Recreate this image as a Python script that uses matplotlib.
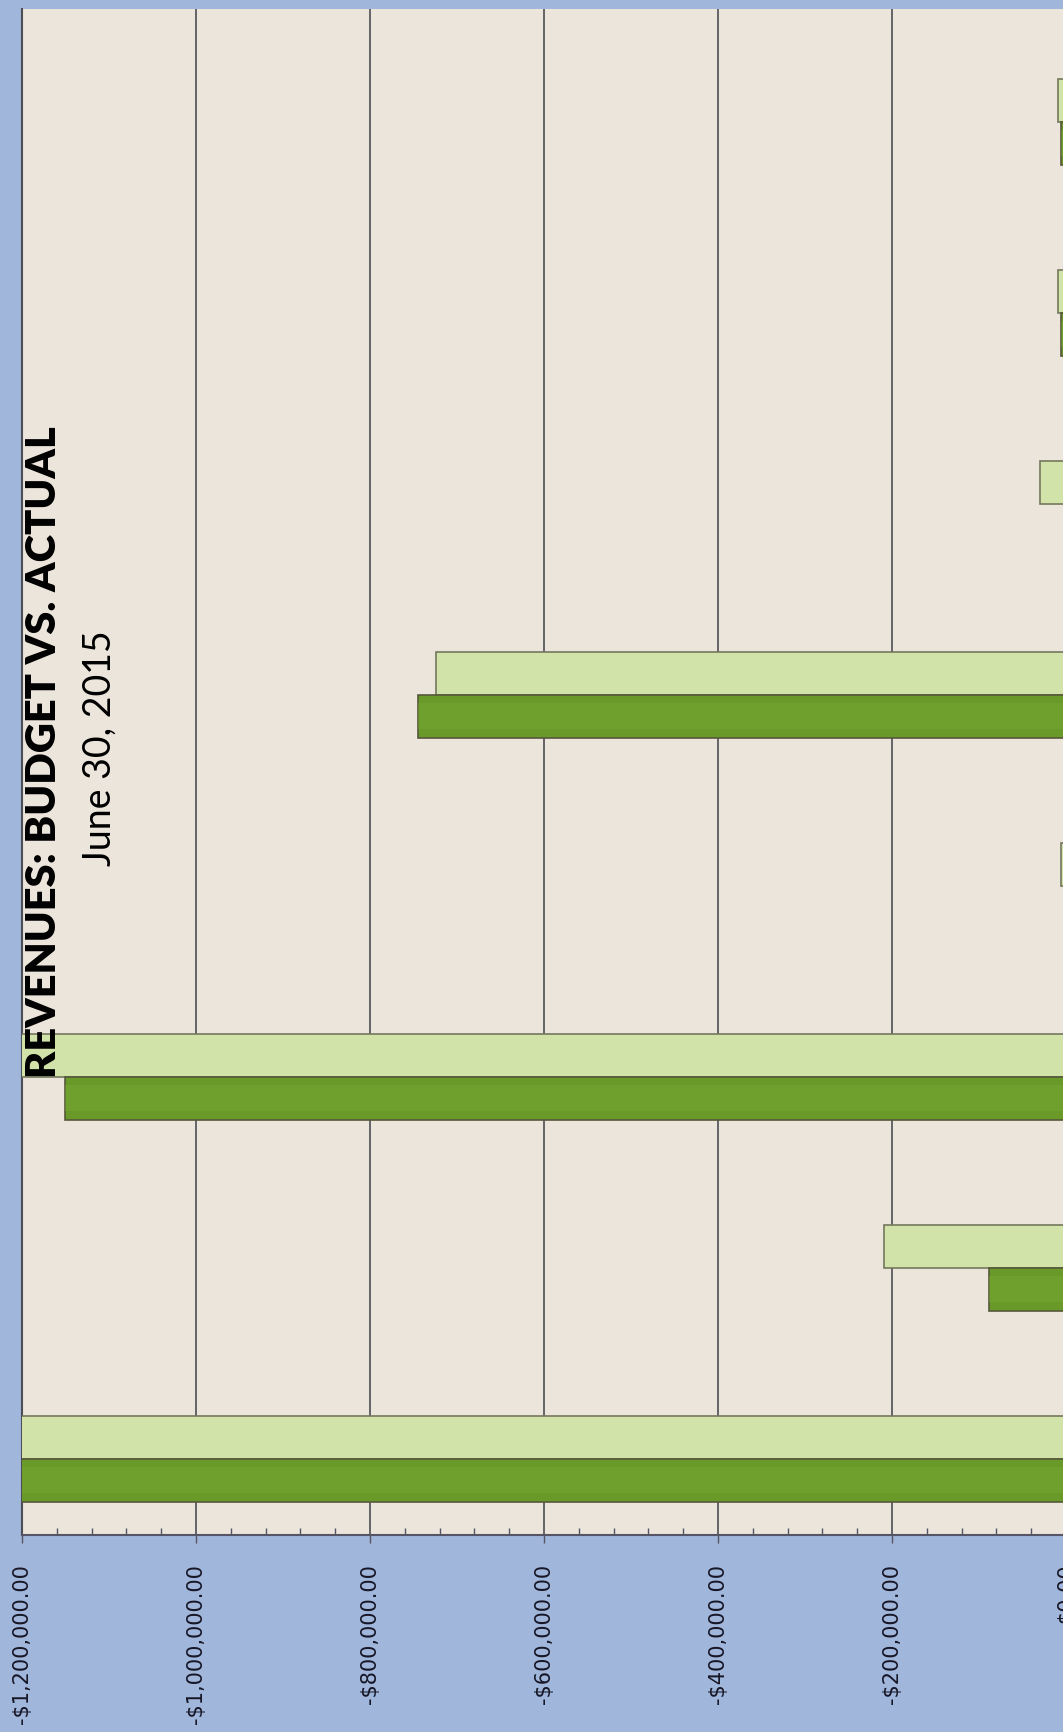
import matplotlib
matplotlib.use("Agg")
import matplotlib.pyplot as plt
import numpy as np
from matplotlib.ticker import FuncFormatter, MultipleLocator

# categories (labels are cut off in the scan), top to bottom
categories = ["Item 1", "Item 2", "Item 3", "Item 4", "Item 5", "Item 6", "Item 7", "Item 8"]
budget = [-9000, -9000, -30000, -724000, -6000, -1230000, -209000, -1400000]
actual = [-6000, -6000, 0, -745000, 0, -1151000, -88500, -1450000]
xticks = [-1200000, -1000000, -800000, -600000, -400000, -200000, 0]

page_blue = "#a0b6da"
plot_bg = "#ebe5dc"
light_green = "#d2e3aa"
dark_green = "#699a29"

fig = plt.figure(figsize=(10.63, 17.33), dpi=100, facecolor=page_blue)
ax = fig.add_axes([22 / 1063, 197 / 1733, 1044 / 1063, 1526 / 1733])
ax.set_facecolor(plot_bg)

y = np.arange(len(categories))
h = 0.225
ax.barh(y - h / 2, budget, height=h, color=light_green, edgecolor="#74775c",
        linewidth=1.2, zorder=3, label="Budget")
ax.barh(y + h / 2, actual, height=h, color=dark_green, edgecolor="#55583a",
        linewidth=1.2, zorder=3, label="Actual")
# slight sheen on the dark bars, like the bevel in the original
ax.barh(y + h / 2, actual, height=h * 0.6, color="#7aab36", linewidth=0,
        zorder=3.5, alpha=0.4)

ax.set_xlim(-1200000, 0)
ax.set_ylim(7.40, -0.59)
ax.set_xticks(xticks)
ax.xaxis.set_minor_locator(MultipleLocator(40000))
ax.xaxis.set_major_formatter(FuncFormatter(
    lambda v, p: ("-$" if v < 0 else "$") + f"{abs(v):,.2f}"))
ax.tick_params(axis="x", which="major", direction="out", length=6, width=1,
               color="#555566", labelsize=15, labelrotation=90, pad=14,
               labelcolor="#161626")
ax.tick_params(axis="x", which="minor", direction="in", length=5, width=1,
               color="#555566")
ax.set_yticks([])
ax.grid(axis="x", which="major", color="#4d4d55", linewidth=1.2, zorder=1)

for s in ["top", "right"]:
    ax.spines[s].set_visible(False)
ax.spines["left"].set_color("#4d4d55")
ax.spines["bottom"].set_color("#555566")
ax.spines["left"].set_linewidth(1.5)
ax.spines["bottom"].set_linewidth(1.5)

fig.text(44 / 1063, 1 - 752 / 1733, "REVENUES: BUDGET VS. ACTUAL", rotation=90,
         ha="center", va="center", fontsize=30, fontweight="heavy",
         family=["Lato", "DejaVu Sans"], color="black", zorder=10)
fig.text(100 / 1063, 1 - 748 / 1733, "June 30, 2015", rotation=90,
         ha="center", va="center", fontsize=27,
         family=["Lato", "DejaVu Sans"], color="black", zorder=10)

fig.savefig("out.png", dpi=100, facecolor=page_blue)
